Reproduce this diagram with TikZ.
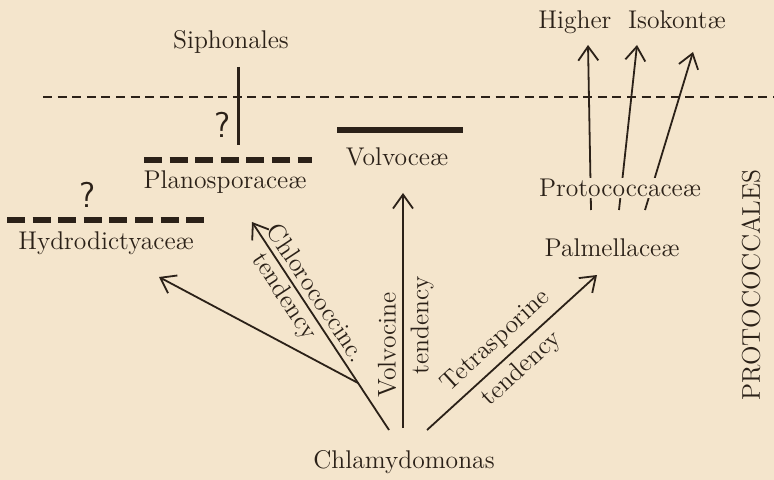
\documentclass[tikz,border=0pt]{standalone}
\usepackage{tikz}
\usetikzlibrary{arrows.meta, positioning}
\definecolor{paper}{HTML}{F4E5CC}
\definecolor{ink}{HTML}{2B2118}

\begin{document}
\begin{tikzpicture}[
    x=0.5pt, y=-0.5pt,
    every node/.style={font=\fontsize{12.8}{14}\selectfont, text=ink, inner sep=1pt},
    query/.style={font=\fontsize{18}{18}\selectfont\sffamily},
    arrow/.style={-{Straight Barb[length=7pt, width=10pt]}, line width=0.9pt, draw=ink},
    bar/.style={line width=2.6pt, draw=ink, dash pattern=on 9pt off 3.8pt},
    border/.style={line width=0.9pt, draw=ink, dash pattern=on 4.5pt off 2.8pt}
]
\fill[paper] (0,0) rectangle (774,480);
\useasboundingbox (0,0) rectangle (774,480);

% groups
\node (siph) at (231,42) {Siphonales};
\node (higher) at (632,22) {Higher\ \ Isokont\ae};
\node (plano) at (225,182) {Planosporace\ae};
\node (hydro) at (106,243) {Hydrodictyace\ae};
\node (volvo) at (397,157) {Volvoce\ae};
\node (palm) at (612,248) {Palmellace\ae};
\node (chlam) at (404,462) {Chlamydomonas};
\node[rotate=90] (order) at (751,285) {PROTOCOCCALES};
\node[query] (q1) at (222,125) {?};
\node[query] (q2) at (87,195) {?};

% end points
\coordinate (siph-top) at (238,67);
\coordinate (siph-bot) at (238,145);
\coordinate (chl-c) at (389,430);
\coordinate (tip-plano) at (252,222);
\coordinate (fork) at (358,383);
\coordinate (tip-hydro) at (159,277);
\coordinate (chl-v) at (403,428);
\coordinate (tip-volvo) at (403,193);
\coordinate (chl-t) at (427,430);
\coordinate (tip-palm) at (597,275);
\coordinate (p1) at (591,210);
\coordinate (p2) at (619,210);
\coordinate (p3) at (645,210);
\coordinate (h1) at (588,45);
\coordinate (h2) at (637,45);
\coordinate (h3) at (693,52);

% levels
\draw[border] (43,97) -- (774,97);
\draw[bar] (144,160) -- (312,160);
\draw[bar] (7,220) -- (206,220);
\draw[line width=2.8pt, draw=ink] (337,130) -- (463,130);
\draw[line width=1.5pt, draw=ink] (siph-top) -- (siph-bot);

% tendencies
\draw[arrow] (chl-c) -- (tip-plano);
\draw[arrow] (fork) -- (tip-hydro);
\draw[arrow] (chl-v) -- (tip-volvo);
\draw[arrow] (chl-t) -- (tip-palm);
\draw[arrow] (p1) -- (h1);
\draw[arrow] (p2) -- (h2);
\draw[arrow] (p3) -- (h3);
\node[fill=paper, inner sep=0.5pt] (proto) at (620,188) {Protococcace\ae};

\node[rotate=-56.6] (chloro-a) at (317,293) {Chlorococcinc.};
\node[rotate=-56.6] (chloro-b) at (284,297) {tendency};
\node[rotate=90] (volv-a) at (387,345) {Volvocine};
\node[rotate=90] (volv-b) at (422,325) {tendency};
\node[rotate=42.4] (tetra-a) at (496,341) {Tetrasporine};
\node[rotate=42.4] (tetra-b) at (522,369) {tendency};
\end{tikzpicture}
\end{document}
